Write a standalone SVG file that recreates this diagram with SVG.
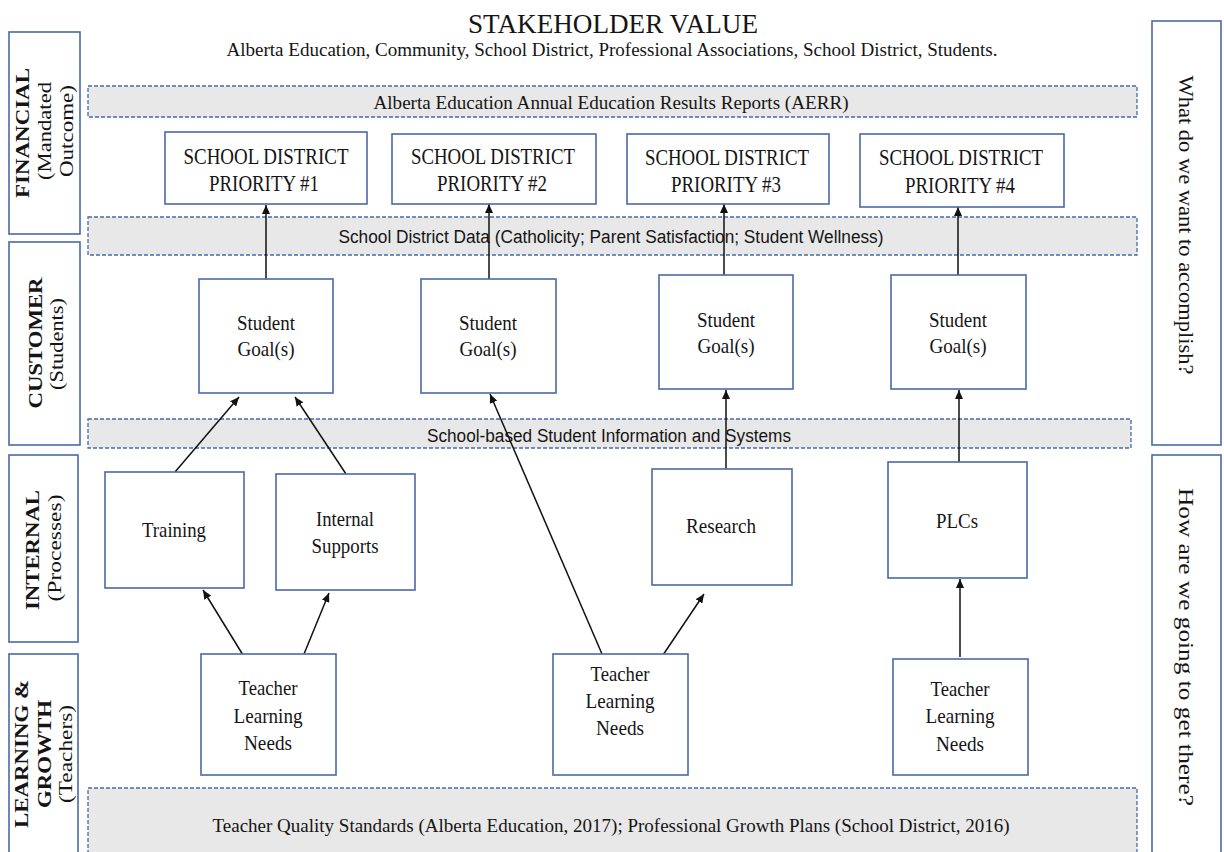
<svg xmlns="http://www.w3.org/2000/svg" width="1224" height="852" viewBox="0 0 1224 852">
<defs>
<marker id="arr" markerUnits="userSpaceOnUse" markerWidth="9" markerHeight="8" refX="9" refY="4" orient="auto">
<path d="M0,0 L9,4 L0,8 z" fill="#111"/>
</marker>
<style>
.bg{fill:#ffffff}
.box{fill:#ffffff;stroke:#4a6aa8;stroke-width:1.6}
.band{fill:#e8e8e8;stroke:#4a6aa8;stroke-width:1.3;stroke-dasharray:4 2}
.conn{stroke:#111;stroke-width:1.5;fill:none;marker-end:url(#arr)}
text{fill:#151515;font-family:"Liberation Serif","Times New Roman",serif;text-anchor:middle}
.sans{font-family:"Liberation Sans",Arial,sans-serif}
.b{font-weight:bold}
</style>
</defs>
<rect class="bg" x="0" y="0" width="1224" height="852"/>

<g id="header">
<text x="613" y="33" font-size="27" textLength="290" lengthAdjust="spacingAndGlyphs">STAKEHOLDER VALUE</text>
<text x="612" y="56" font-size="18" textLength="771" lengthAdjust="spacingAndGlyphs">Alberta Education, Community, School District, Professional Associations, School District, Students.</text>
</g>

<g id="band-aerr">
<rect class="band" x="88" y="86" width="1049" height="31"/>
<text x="611" y="109" font-size="18" textLength="475" lengthAdjust="spacingAndGlyphs">Alberta Education Annual Education Results Reports (AERR)</text>
</g>
<g id="band-district-data">
<rect class="band" x="88" y="217" width="1049" height="38"/>
<text class="sans" x="611" y="243" font-size="18" textLength="545" lengthAdjust="spacingAndGlyphs">School District Data (Catholicity; Parent Satisfaction; Student Wellness)</text>
</g>
<g id="band-school-based">
<rect class="band" x="88" y="419" width="1043" height="29"/>
<text class="sans" x="609" y="442" font-size="18" textLength="364" lengthAdjust="spacingAndGlyphs">School-based Student Information and Systems</text>
</g>
<g id="band-tqs">
<rect class="band" x="88" y="788" width="1049" height="70"/>
<text x="611" y="832" font-size="19" textLength="797" lengthAdjust="spacingAndGlyphs">Teacher Quality Standards (Alberta Education, 2017); Professional Growth Plans (School District, 2016)</text>
</g>

<g id="label-financial">
<rect class="box" x="9" y="32" width="71" height="202"/>
<text class="b" transform="translate(29,133) rotate(-90)" font-size="18" textLength="130" lengthAdjust="spacingAndGlyphs">FINANCIAL</text>
<text transform="translate(51,131) rotate(-90)" font-size="18" textLength="98" lengthAdjust="spacingAndGlyphs">(Mandated</text>
<text transform="translate(73,131) rotate(-90)" font-size="18" textLength="92" lengthAdjust="spacingAndGlyphs">Outcome)</text>
</g>
<g id="label-customer">
<rect class="box" x="9" y="242" width="71" height="203"/>
<text class="b" transform="translate(42,343) rotate(-90)" font-size="18" textLength="131" lengthAdjust="spacingAndGlyphs">CUSTOMER</text>
<text transform="translate(63,344) rotate(-90)" font-size="18" textLength="92" lengthAdjust="spacingAndGlyphs">(Students)</text>
</g>
<g id="label-internal">
<rect class="box" x="9" y="455" width="69" height="187"/>
<text class="b" transform="translate(39,550) rotate(-90)" font-size="18" textLength="120" lengthAdjust="spacingAndGlyphs">INTERNAL</text>
<text transform="translate(61,548) rotate(-90)" font-size="18" textLength="107" lengthAdjust="spacingAndGlyphs">(Processes)</text>
</g>
<g id="label-learning">
<rect class="box" x="9" y="654" width="69" height="210"/>
<text class="b" transform="translate(28,754) rotate(-90)" font-size="18" textLength="148" lengthAdjust="spacingAndGlyphs">LEARNING &amp;</text>
<text class="b" transform="translate(51,754) rotate(-90)" font-size="18" textLength="108" lengthAdjust="spacingAndGlyphs">GROWTH</text>
<text transform="translate(72,754) rotate(-90)" font-size="18" textLength="98" lengthAdjust="spacingAndGlyphs">(Teachers)</text>
</g>

<g id="label-what">
<rect class="box" x="1152" y="21" width="69" height="424"/>
<text transform="translate(1179,225) rotate(90)" font-size="20" textLength="299" lengthAdjust="spacingAndGlyphs">What do we want to accomplish?</text>
</g>
<g id="label-how">
<rect class="box" x="1152" y="455" width="69" height="410"/>
<text transform="translate(1179,647) rotate(90)" font-size="22" textLength="318" lengthAdjust="spacingAndGlyphs">How are we going to get there?</text>
</g>

<g id="connectors">
<line class="conn" x1="266" y1="279" x2="266" y2="205"/>
<line class="conn" x1="489" y1="279" x2="489" y2="204"/>
<line class="conn" x1="724" y1="275" x2="724" y2="204"/>
<line class="conn" x1="958" y1="275" x2="958" y2="207"/>
<line class="conn" x1="175" y1="472" x2="239" y2="397"/>
<line class="conn" x1="346" y1="474" x2="295" y2="397"/>
<line class="conn" x1="243" y1="655" x2="203" y2="590"/>
<line class="conn" x1="304" y1="654" x2="329" y2="593"/>
<line class="conn" x1="602" y1="654" x2="490" y2="394"/>
<line class="conn" x1="663" y1="655" x2="704" y2="594"/>
<line class="conn" x1="726" y1="469" x2="726" y2="390"/>
<line class="conn" x1="959" y1="462" x2="959" y2="390"/>
<line class="conn" x1="960" y1="657" x2="960" y2="579"/>
</g>

<g id="priority-1">
<rect class="box" x="165" y="132" width="202" height="72"/>
<text x="266" y="164" font-size="23" textLength="165" lengthAdjust="spacingAndGlyphs">SCHOOL DISTRICT</text>
<text x="264" y="191" font-size="23" textLength="110" lengthAdjust="spacingAndGlyphs">PRIORITY #1</text>
</g>
<g id="priority-2">
<rect class="box" x="392" y="134" width="204" height="70"/>
<text x="493" y="164" font-size="23" textLength="164" lengthAdjust="spacingAndGlyphs">SCHOOL DISTRICT</text>
<text x="492" y="191" font-size="23" textLength="110" lengthAdjust="spacingAndGlyphs">PRIORITY #2</text>
</g>
<g id="priority-3">
<rect class="box" x="627" y="134" width="202" height="70"/>
<text x="727" y="165" font-size="23" textLength="164" lengthAdjust="spacingAndGlyphs">SCHOOL DISTRICT</text>
<text x="726" y="192" font-size="23" textLength="110" lengthAdjust="spacingAndGlyphs">PRIORITY #3</text>
</g>
<g id="priority-4">
<rect class="box" x="860" y="134" width="204" height="73"/>
<text x="961" y="165" font-size="23" textLength="164" lengthAdjust="spacingAndGlyphs">SCHOOL DISTRICT</text>
<text x="960" y="193" font-size="23" textLength="110" lengthAdjust="spacingAndGlyphs">PRIORITY #4</text>
</g>

<g id="goal-1">
<rect class="box" x="199" y="279" width="134" height="114"/>
<text x="266" y="330" font-size="21" textLength="58" lengthAdjust="spacingAndGlyphs">Student</text>
<text x="266" y="356" font-size="21" textLength="57" lengthAdjust="spacingAndGlyphs">Goal(s)</text>
</g>
<g id="goal-2">
<rect class="box" x="421" y="279" width="135" height="114"/>
<text x="488" y="330" font-size="21" textLength="58" lengthAdjust="spacingAndGlyphs">Student</text>
<text x="488" y="356" font-size="21" textLength="57" lengthAdjust="spacingAndGlyphs">Goal(s)</text>
</g>
<g id="goal-3">
<rect class="box" x="659" y="275" width="134" height="114"/>
<text x="726" y="327" font-size="21" textLength="58" lengthAdjust="spacingAndGlyphs">Student</text>
<text x="726" y="353" font-size="21" textLength="57" lengthAdjust="spacingAndGlyphs">Goal(s)</text>
</g>
<g id="goal-4">
<rect class="box" x="891" y="275" width="135" height="114"/>
<text x="958" y="327" font-size="21" textLength="58" lengthAdjust="spacingAndGlyphs">Student</text>
<text x="958" y="353" font-size="21" textLength="57" lengthAdjust="spacingAndGlyphs">Goal(s)</text>
</g>

<g id="training">
<rect class="box" x="105" y="472" width="139" height="116"/>
<text x="174" y="537" font-size="21" textLength="64" lengthAdjust="spacingAndGlyphs">Training</text>
</g>
<g id="internal-supports">
<rect class="box" x="276" y="474" width="139" height="116"/>
<text x="345" y="526" font-size="21" textLength="58" lengthAdjust="spacingAndGlyphs">Internal</text>
<text x="345" y="553" font-size="21" textLength="67" lengthAdjust="spacingAndGlyphs">Supports</text>
</g>
<g id="research">
<rect class="box" x="652" y="469" width="140" height="116"/>
<text x="721" y="533" font-size="21" textLength="70" lengthAdjust="spacingAndGlyphs">Research</text>
</g>
<g id="plcs">
<rect class="box" x="888" y="462" width="139" height="116"/>
<text x="957" y="528" font-size="21" textLength="42" lengthAdjust="spacingAndGlyphs">PLCs</text>
</g>

<g id="tln-1">
<rect class="box" x="201" y="654" width="135" height="121"/>
<text x="268" y="695" font-size="21" textLength="59" lengthAdjust="spacingAndGlyphs">Teacher</text>
<text x="268" y="723" font-size="21" textLength="69" lengthAdjust="spacingAndGlyphs">Learning</text>
<text x="268" y="750" font-size="21" textLength="48" lengthAdjust="spacingAndGlyphs">Needs</text>
</g>
<g id="tln-2">
<rect class="box" x="553" y="654" width="135" height="121"/>
<text x="620" y="681" font-size="21" textLength="59" lengthAdjust="spacingAndGlyphs">Teacher</text>
<text x="620" y="708" font-size="21" textLength="69" lengthAdjust="spacingAndGlyphs">Learning</text>
<text x="620" y="735" font-size="21" textLength="48" lengthAdjust="spacingAndGlyphs">Needs</text>
</g>
<g id="tln-3">
<rect class="box" x="893" y="659" width="135" height="116"/>
<text x="960" y="696" font-size="21" textLength="59" lengthAdjust="spacingAndGlyphs">Teacher</text>
<text x="960" y="723" font-size="21" textLength="69" lengthAdjust="spacingAndGlyphs">Learning</text>
<text x="960" y="751" font-size="21" textLength="48" lengthAdjust="spacingAndGlyphs">Needs</text>
</g>
</svg>
